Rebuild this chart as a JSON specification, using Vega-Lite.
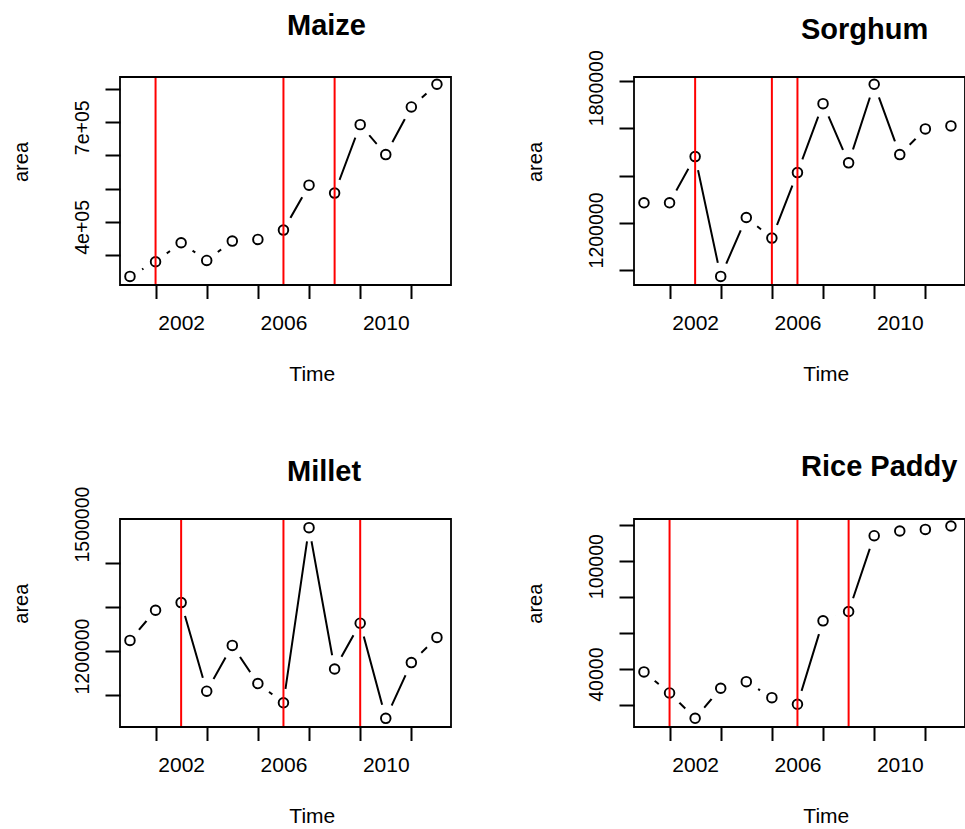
{
  "$schema": "https://vega.github.io/schema/vega-lite/v6.json",
  "background": "white",
  "padding": {"left": 10, "top": 10, "right": 0, "bottom": 0},
  "config": {
    "font": "Liberation Sans",
    "view": {"stroke": "black", "strokeWidth": 1.8},
    "style": {"cell": {"strokeForeground": true}},
    "axis": {"grid": false, "domain": false, "tickColor": "black", "tickWidth": 2, "labelColor": "black", "titleColor": "black", "labelFontSize": 21, "titleFontSize": 21, "titleFontWeight": "normal", "labelFont": "Liberation Sans", "titleFont": "Liberation Sans", "labelOverlap": false, "labelFlush": false},
    "title": {"font": "Liberation Sans", "fontSize": 29, "fontWeight": "bold", "color": "black", "anchor": "start", "frame": "group", "baseline": "alphabetic"}
  },
  "datasets": {
    "series": [
      {"crop": "Maize", "year": 2000, "area": 235800},
      {"crop": "Maize", "year": 2001, "area": 280000},
      {"crop": "Maize", "year": 2002, "area": 337100},
      {"crop": "Maize", "year": 2003, "area": 283900},
      {"crop": "Maize", "year": 2004, "area": 342200},
      {"crop": "Maize", "year": 2005, "area": 347050},
      {"crop": "Maize", "year": 2006, "area": 375300},
      {"crop": "Maize", "year": 2007, "area": 510600},
      {"crop": "Maize", "year": 2008, "area": 486600},
      {"crop": "Maize", "year": 2009, "area": 692800},
      {"crop": "Maize", "year": 2010, "area": 602600},
      {"crop": "Maize", "year": 2011, "area": 746000},
      {"crop": "Maize", "year": 2012, "area": 814300},
      {"crop": "Sorghum", "year": 2000, "area": 1285100},
      {"crop": "Sorghum", "year": 2001, "area": 1285100},
      {"crop": "Sorghum", "year": 2002, "area": 1480000},
      {"crop": "Sorghum", "year": 2003, "area": 974700},
      {"crop": "Sorghum", "year": 2004, "area": 1223200},
      {"crop": "Sorghum", "year": 2005, "area": 1136400},
      {"crop": "Sorghum", "year": 2006, "area": 1412600},
      {"crop": "Sorghum", "year": 2007, "area": 1703200},
      {"crop": "Sorghum", "year": 2008, "area": 1453500},
      {"crop": "Sorghum", "year": 2009, "area": 1784800},
      {"crop": "Sorghum", "year": 2010, "area": 1488400},
      {"crop": "Sorghum", "year": 2011, "area": 1596600},
      {"crop": "Sorghum", "year": 2012, "area": 1609300},
      {"crop": "Millet", "year": 2000, "area": 1224200},
      {"crop": "Millet", "year": 2001, "area": 1292800},
      {"crop": "Millet", "year": 2002, "area": 1310200},
      {"crop": "Millet", "year": 2003, "area": 1108800},
      {"crop": "Millet", "year": 2004, "area": 1212900},
      {"crop": "Millet", "year": 2005, "area": 1126200},
      {"crop": "Millet", "year": 2006, "area": 1082400},
      {"crop": "Millet", "year": 2007, "area": 1480500},
      {"crop": "Millet", "year": 2008, "area": 1159300},
      {"crop": "Millet", "year": 2009, "area": 1263300},
      {"crop": "Millet", "year": 2010, "area": 1047100},
      {"crop": "Millet", "year": 2011, "area": 1173800},
      {"crop": "Millet", "year": 2012, "area": 1231000},
      {"crop": "Rice Paddy", "year": 2000, "area": 38450},
      {"crop": "Rice Paddy", "year": 2001, "area": 26760},
      {"crop": "Rice Paddy", "year": 2002, "area": 12680},
      {"crop": "Rice Paddy", "year": 2003, "area": 29380},
      {"crop": "Rice Paddy", "year": 2004, "area": 33050},
      {"crop": "Rice Paddy", "year": 2005, "area": 24150},
      {"crop": "Rice Paddy", "year": 2006, "area": 20470},
      {"crop": "Rice Paddy", "year": 2007, "area": 66830},
      {"crop": "Rice Paddy", "year": 2008, "area": 72000},
      {"crop": "Rice Paddy", "year": 2009, "area": 114130},
      {"crop": "Rice Paddy", "year": 2010, "area": 116750},
      {"crop": "Rice Paddy", "year": 2011, "area": 117640},
      {"crop": "Rice Paddy", "year": 2012, "area": 119530}
    ],
    "vlines": [
      {"crop": "Maize", "year": 2001},
      {"crop": "Maize", "year": 2006},
      {"crop": "Maize", "year": 2008},
      {"crop": "Sorghum", "year": 2002},
      {"crop": "Sorghum", "year": 2005},
      {"crop": "Sorghum", "year": 2006},
      {"crop": "Millet", "year": 2002},
      {"crop": "Millet", "year": 2006},
      {"crop": "Millet", "year": 2009},
      {"crop": "Rice Paddy", "year": 2001},
      {"crop": "Rice Paddy", "year": 2006},
      {"crop": "Rice Paddy", "year": 2008}
    ]
  },
  "columns": 2,
  "bounds": "flush",
  "spacing": {"row": 234, "column": 183},
  "concat": [
    {
      "width": 331, "height": 208,
      "title": {"text": "Maize", "dx": 167, "offset": 35},
      "layer": [
        {"data": {"name": "series"}, "transform": [{"filter": "datum.crop === 'Maize'"}],
         "mark": {"type": "line", "color": "black", "strokeWidth": 2},
         "encoding": {
           "x": {"field": "year", "type": "quantitative", "title": "Time", "scale": {"domain": [1999.61, 2012.55], "nice": false, "zero": false},
                 "axis": {"values": [2001, 2002, 2003, 2005, 2006, 2007, 2009, 2010, 2011], "format": "d", "labelExpr": "(datum.value == 2002 || datum.value == 2006 || datum.value == 2010) ? datum.label : ''", "tickOpacity": {"condition": {"test": "datum.value % 2 == 1", "value": 1}, "value": 0}, "tickSize": 13.5, "labelPadding": 14, "labelAngle": 0, "labelAlign": "center", "labelBaseline": "top", "titleX": 191.8, "titleY": 78, "titleAlign": "center", "titleBaseline": "top"}},
           "y": {"field": "area", "type": "quantitative", "title": "area", "scale": {"domain": [209950, 836200], "nice": false, "zero": false},
                 "axis": {"values": [300000, 400000, 500000, 600000, 700000, 800000], "labelExpr": "datum.value == 400000 ? '4e+05' : datum.value == 700000 ? '7e+05' : ''", "tickSize": 15, "labelFontSize": 19.5, "labelAngle": 270, "labelAlign": "center", "labelBaseline": "alphabetic", "labelPadding": 17, "labelOffset": 5, "titleX": -93, "titleY": 84.5, "titleAngle": 270, "titleAlign": "center", "titleBaseline": "alphabetic", "titleFontSize": 20}}
         }},
        {"data": {"name": "series"}, "transform": [{"filter": "datum.crop === 'Maize'"}],
         "mark": {"type": "point", "shape": "circle", "filled": true, "color": "white", "size": 784, "opacity": 1, "strokeWidth": 0, "clip": true},
         "encoding": {"x": {"field": "year", "type": "quantitative", "title": "Time"}, "y": {"field": "area", "type": "quantitative", "title": "area"}}},
        {"data": {"name": "series"}, "transform": [{"filter": "datum.crop === 'Maize'"}],
         "mark": {"type": "point", "shape": "circle", "filled": false, "color": "black", "size": 92, "opacity": 1, "strokeWidth": 1.9},
         "encoding": {"x": {"field": "year", "type": "quantitative", "title": "Time"}, "y": {"field": "area", "type": "quantitative", "title": "area"}}},
        {"data": {"name": "vlines"}, "transform": [{"filter": "datum.crop === 'Maize'"}],
         "mark": {"type": "rule", "color": "red", "strokeWidth": 2},
         "encoding": {"x": {"field": "year", "type": "quantitative", "title": "Time"}}}
      ]
    },
    {
      "width": 331, "height": 208,
      "title": {"text": "Sorghum", "dx": 167, "offset": 5},
      "layer": [
        {"data": {"name": "series"}, "transform": [{"filter": "datum.crop === 'Sorghum'"}],
         "mark": {"type": "line", "color": "black", "strokeWidth": 2},
         "encoding": {
           "x": {"field": "year", "type": "quantitative", "title": "Time", "scale": {"domain": [1999.61, 2012.55], "nice": false, "zero": false},
                 "axis": {"values": [2001, 2002, 2003, 2005, 2006, 2007, 2009, 2010, 2011], "format": "d", "labelExpr": "(datum.value == 2002 || datum.value == 2006 || datum.value == 2010) ? datum.label : ''", "tickOpacity": {"condition": {"test": "datum.value % 2 == 1", "value": 1}, "value": 0}, "tickSize": 13.5, "labelPadding": 14, "labelAngle": 0, "labelAlign": "center", "labelBaseline": "top", "titleX": 191.8, "titleY": 78, "titleAlign": "center", "titleBaseline": "top"}},
           "y": {"field": "area", "type": "quantitative", "title": "area", "scale": {"domain": [938500, 1815600], "nice": false, "zero": false},
                 "axis": {"values": [1000000, 1200000, 1400000, 1600000, 1800000], "labelExpr": "datum.value == 1200000 ? '1200000' : datum.value == 1800000 ? '1800000' : ''", "tickSize": 15, "labelFontSize": 19.5, "labelAngle": 270, "labelAlign": "center", "labelBaseline": "alphabetic", "labelPadding": 17, "labelOffset": 7, "titleX": -93, "titleY": 84.5, "titleAngle": 270, "titleAlign": "center", "titleBaseline": "alphabetic", "titleFontSize": 20}}
         }},
        {"data": {"name": "series"}, "transform": [{"filter": "datum.crop === 'Sorghum'"}],
         "mark": {"type": "point", "shape": "circle", "filled": true, "color": "white", "size": 784, "opacity": 1, "strokeWidth": 0, "clip": true},
         "encoding": {"x": {"field": "year", "type": "quantitative", "title": "Time"}, "y": {"field": "area", "type": "quantitative", "title": "area"}}},
        {"data": {"name": "series"}, "transform": [{"filter": "datum.crop === 'Sorghum'"}],
         "mark": {"type": "point", "shape": "circle", "filled": false, "color": "black", "size": 92, "opacity": 1, "strokeWidth": 1.9},
         "encoding": {"x": {"field": "year", "type": "quantitative", "title": "Time"}, "y": {"field": "area", "type": "quantitative", "title": "area"}}},
        {"data": {"name": "vlines"}, "transform": [{"filter": "datum.crop === 'Sorghum'"}],
         "mark": {"type": "rule", "color": "red", "strokeWidth": 2},
         "encoding": {"x": {"field": "year", "type": "quantitative", "title": "Time"}}}
      ]
    },
    {
      "width": 331, "height": 208,
      "title": {"text": "Millet", "dx": 167, "offset": -1},
      "layer": [
        {"data": {"name": "series"}, "transform": [{"filter": "datum.crop === 'Millet'"}],
         "mark": {"type": "line", "color": "black", "strokeWidth": 2},
         "encoding": {
           "x": {"field": "year", "type": "quantitative", "title": "Time", "scale": {"domain": [1999.61, 2012.55], "nice": false, "zero": false},
                 "axis": {"values": [2001, 2002, 2003, 2005, 2006, 2007, 2009, 2010, 2011], "format": "d", "labelExpr": "(datum.value == 2002 || datum.value == 2006 || datum.value == 2010) ? datum.label : ''", "tickOpacity": {"condition": {"test": "datum.value % 2 == 1", "value": 1}, "value": 0}, "tickSize": 13.5, "labelPadding": 14, "labelAngle": 0, "labelAlign": "center", "labelBaseline": "top", "titleX": 191.8, "titleY": 78, "titleAlign": "center", "titleBaseline": "top"}},
           "y": {"field": "area", "type": "quantitative", "title": "area", "scale": {"domain": [1027400, 1500200], "nice": false, "zero": false},
                 "axis": {"values": [1100000, 1200000, 1300000, 1400000, 1500000], "labelExpr": "datum.value == 1200000 ? '1200000' : datum.value == 1500000 ? '1500000' : ''", "tickOpacity": {"condition": {"test": "datum.value < 1450000", "value": 1}, "value": 0}, "tickSize": 15, "labelFontSize": 19.5, "labelAngle": 270, "labelAlign": "center", "labelBaseline": "alphabetic", "labelPadding": 17, "labelOffset": 5, "titleX": -93, "titleY": 84.2, "titleAngle": 270, "titleAlign": "center", "titleBaseline": "alphabetic", "titleFontSize": 20}}
         }},
        {"data": {"name": "series"}, "transform": [{"filter": "datum.crop === 'Millet'"}],
         "mark": {"type": "point", "shape": "circle", "filled": true, "color": "white", "size": 784, "opacity": 1, "strokeWidth": 0, "clip": true},
         "encoding": {"x": {"field": "year", "type": "quantitative", "title": "Time"}, "y": {"field": "area", "type": "quantitative", "title": "area"}}},
        {"data": {"name": "series"}, "transform": [{"filter": "datum.crop === 'Millet'"}],
         "mark": {"type": "point", "shape": "circle", "filled": false, "color": "black", "size": 92, "opacity": 1, "strokeWidth": 1.9},
         "encoding": {"x": {"field": "year", "type": "quantitative", "title": "Time"}, "y": {"field": "area", "type": "quantitative", "title": "area"}}},
        {"data": {"name": "vlines"}, "transform": [{"filter": "datum.crop === 'Millet'"}],
         "mark": {"type": "rule", "color": "red", "strokeWidth": 2},
         "encoding": {"x": {"field": "year", "type": "quantitative", "title": "Time"}}}
      ]
    },
    {
      "width": 331, "height": 208,
      "title": {"text": "Rice Paddy", "dx": 167, "offset": 35},
      "layer": [
        {"data": {"name": "series"}, "transform": [{"filter": "datum.crop === 'Rice Paddy'"}],
         "mark": {"type": "line", "color": "black", "strokeWidth": 2},
         "encoding": {
           "x": {"field": "year", "type": "quantitative", "title": "Time", "scale": {"domain": [1999.61, 2012.55], "nice": false, "zero": false},
                 "axis": {"values": [2001, 2002, 2003, 2005, 2006, 2007, 2009, 2010, 2011], "format": "d", "labelExpr": "(datum.value == 2002 || datum.value == 2006 || datum.value == 2010) ? datum.label : ''", "tickOpacity": {"condition": {"test": "datum.value % 2 == 1", "value": 1}, "value": 0}, "tickSize": 13.5, "labelPadding": 14, "labelAngle": 0, "labelAlign": "center", "labelBaseline": "top", "titleX": 191.8, "titleY": 78, "titleAlign": "center", "titleBaseline": "top"}},
           "y": {"field": "area", "type": "quantitative", "title": "area", "scale": {"domain": [7840, 123420], "nice": false, "zero": false},
                 "axis": {"values": [20000, 40000, 60000, 80000, 100000, 120000], "labelExpr": "datum.value == 40000 ? '40000' : datum.value == 100000 ? '100000' : ''", "tickSize": 15, "labelFontSize": 19.5, "labelAngle": 270, "labelAlign": "center", "labelBaseline": "alphabetic", "labelPadding": 17, "labelOffset": 5, "titleX": -93, "titleY": 84.2, "titleAngle": 270, "titleAlign": "center", "titleBaseline": "alphabetic", "titleFontSize": 20}}
         }},
        {"data": {"name": "series"}, "transform": [{"filter": "datum.crop === 'Rice Paddy'"}],
         "mark": {"type": "point", "shape": "circle", "filled": true, "color": "white", "size": 784, "opacity": 1, "strokeWidth": 0, "clip": true},
         "encoding": {"x": {"field": "year", "type": "quantitative", "title": "Time"}, "y": {"field": "area", "type": "quantitative", "title": "area"}}},
        {"data": {"name": "series"}, "transform": [{"filter": "datum.crop === 'Rice Paddy'"}],
         "mark": {"type": "point", "shape": "circle", "filled": false, "color": "black", "size": 92, "opacity": 1, "strokeWidth": 1.9},
         "encoding": {"x": {"field": "year", "type": "quantitative", "title": "Time"}, "y": {"field": "area", "type": "quantitative", "title": "area"}}},
        {"data": {"name": "vlines"}, "transform": [{"filter": "datum.crop === 'Rice Paddy'"}],
         "mark": {"type": "rule", "color": "red", "strokeWidth": 2},
         "encoding": {"x": {"field": "year", "type": "quantitative", "title": "Time"}}}
      ]
    }
  ]
}
